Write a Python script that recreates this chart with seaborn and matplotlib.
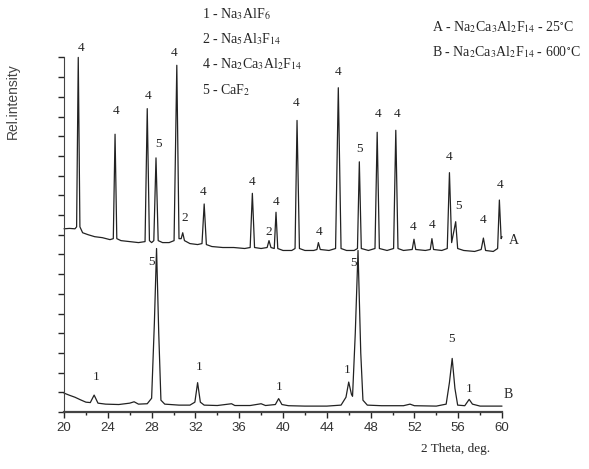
import matplotlib
matplotlib.use("Agg")
import matplotlib.pyplot as plt
import seaborn as sns
import pandas as pd
from matplotlib.ticker import MultipleLocator

# trace A (25 C): 2theta (deg) and rel. intensity
a_x = [20.0, 20.5, 21.0, 21.15, 21.3, 21.45, 21.7, 22.2, 22.8, 23.5, 24.2, 24.5, 24.66, 24.82,
       25.2, 26.0, 26.8, 27.4, 27.6, 27.8, 28.0, 28.2, 28.4, 28.6, 29.0, 29.6, 30.05, 30.3,
       30.5, 30.7, 30.84, 31.0, 31.5, 32.2, 32.6, 32.8, 33.0, 33.5, 34.5, 35.5, 36.5, 37.0,
       37.2, 37.4, 38.0, 38.55, 38.72, 38.9, 39.2, 39.36, 39.52, 40.0, 40.8, 41.1, 41.28,
       41.5, 42.0, 42.8, 43.1, 43.23, 43.4, 44.2, 44.8, 45.05, 45.3, 45.8, 46.5, 46.8, 46.97,
       47.15, 47.8, 48.4, 48.6, 48.8, 49.5, 50.1, 50.3, 50.5, 51.0, 51.8, 51.96, 52.12, 53.0,
       53.45, 53.6, 53.75, 54.5, 55.0, 55.2, 55.4, 55.77, 55.95, 56.5, 57.5, 58.1, 58.3, 58.5,
       59.2, 59.6, 59.76, 59.92, 60.0]
a_y = [9.3, 9.32, 9.3, 9.4, 18.0, 9.4, 9.1, 9.0, 8.9, 8.85, 8.75, 8.8, 14.1, 8.8,
       8.7, 8.65, 8.6, 8.65, 15.4, 8.7, 8.6, 8.7, 12.9, 8.7, 8.6, 8.6, 8.7, 17.6,
       8.8, 8.8, 9.1, 8.7, 8.55, 8.5, 8.55, 10.56, 8.5, 8.4, 8.35, 8.35, 8.3, 8.35,
       11.1, 8.35, 8.3, 8.35, 8.7, 8.35, 8.3, 10.14, 8.3, 8.2, 8.2, 8.3, 14.8,
       8.3, 8.2, 8.2, 8.25, 8.6, 8.25, 8.2, 8.3, 16.46, 8.3, 8.2, 8.2, 8.3, 12.7,
       8.3, 8.2, 8.3, 14.2, 8.3, 8.2, 8.3, 14.3, 8.3, 8.2, 8.25, 8.77, 8.25, 8.2,
       8.25, 8.8, 8.25, 8.2, 8.3, 12.15, 8.6, 9.66, 8.3, 8.2, 8.15, 8.25, 8.83, 8.2,
       8.15, 8.3, 10.76, 8.8, 8.9]

# trace B (600 C)
b_x = [20.0, 20.5, 21.0, 21.5, 22.0, 22.4, 22.75, 23.1, 23.8, 25.0, 26.0, 26.4, 26.8, 27.6,
       28.0, 28.25, 28.45, 28.65, 28.85, 29.2, 30.5, 31.5, 31.95, 32.2, 32.45, 32.8, 34.0,
       35.3, 35.6, 37.0, 38.0, 38.4, 39.3, 39.6, 39.9, 40.5, 42.0, 44.0, 45.3, 45.75, 46.0,
       46.25, 46.35, 46.6, 46.85, 47.1, 47.3, 47.7, 49.0, 51.0, 51.6, 52.0, 54.0, 54.9, 55.2,
       55.45, 55.7, 55.95, 56.6, 57.0, 57.3, 58.0, 59.0, 60.0]
b_y = [0.96, 0.85, 0.75, 0.62, 0.5, 0.48, 0.86, 0.45, 0.4, 0.38, 0.45, 0.52, 0.4, 0.42,
       0.7, 4.5, 8.3, 4.0, 0.6, 0.4, 0.35, 0.35, 0.5, 1.49, 0.5, 0.35, 0.33,
       0.42, 0.33, 0.33, 0.42, 0.33, 0.38, 0.68, 0.38, 0.32, 0.3, 0.3, 0.35, 0.75, 1.52,
       0.9, 0.8, 4.0, 8.2, 3.0, 0.6, 0.35, 0.32, 0.32, 0.4, 0.32, 0.3, 0.4, 1.5,
       2.72, 1.2, 0.35, 0.32, 0.64, 0.4, 0.3, 0.3, 0.3]

# phase labels over the peaks
a_lab = ["4", "4", "4", "5", "4", "2", "4", "4", "2", "4", "4", "4", "4", "5", "4", "4",
         "4", "4", "4", "5", "4", "4"]
a_lab_x = [21.52, 24.75, 27.7, 28.6, 30.07, 30.99, 32.72, 37.14, 38.66, 39.36, 41.19, 43.32,
           45.0, 46.94, 48.65, 50.44, 51.9, 53.64, 55.19, 56.0, 58.23, 59.82]
a_lab_y = [18.5, 15.28, 16.04, 13.6, 18.2, 9.83, 11.18, 11.69, 9.15, 10.64, 15.67, 9.14,
           17.24, 13.33, 15.13, 15.13, 9.4, 9.49, 12.96, 10.47, 9.75, 11.5]
b_lab = ["1", "5", "1", "1", "1", "5", "5", "1"]
b_lab_x = [22.92, 28.0, 32.36, 39.66, 45.88, 46.43, 55.4, 57.0]
b_lab_y = [1.76, 7.6, 2.27, 1.29, 2.13, 7.55, 3.69, 1.15]

phases = ["1 - Na$_3$AlF$_6$", "2 - Na$_5$Al$_3$F$_{14}$",
          "4 - Na$_2$Ca$_3$Al$_2$F$_{14}$", "5 - CaF$_2$"]
samples = ["A - Na$_2$Ca$_3$Al$_2$F$_{14}$ - 25$^{\\circ}$C",
           "B - Na$_2$Ca$_3$Al$_2$F$_{14}$ - 600$^{\\circ}$C"]

sns.set_style("ticks")
plt.rcParams["font.family"] = ["Liberation Serif", "DejaVu Serif"]
plt.rcParams["mathtext.fontset"] = "stix"

df_a = pd.DataFrame({"x": a_x, "y": a_y})
df_b = pd.DataFrame({"x": b_x, "y": b_y})

fig = plt.figure(figsize=(5.89, 4.69), dpi=100)
ax = fig.add_axes([0.1087, 0.1215, 0.7436, 0.7561])

sns.lineplot(data=df_a, x="x", y="y", ax=ax, color="#222222", lw=0.9,
             estimator=None, sort=False, clip_on=False)
sns.lineplot(data=df_b, x="x", y="y", ax=ax, color="#222222", lw=0.9,
             estimator=None, sort=False, clip_on=False)

for t, x, y in zip(a_lab, a_lab_x, a_lab_y):
    ax.text(x, y, t, ha="center", va="center", fontsize=9.5, clip_on=False)
for t, x, y in zip(b_lab, b_lab_x, b_lab_y):
    ax.text(x, y, t, ha="center", va="center", fontsize=9.5, clip_on=False)
ax.text(61.1, 8.73, "A", ha="center", va="center", fontsize=10, clip_on=False)
ax.text(60.58, 0.9, "B", ha="center", va="center", fontsize=10, clip_on=False)

ax.set_xlim(20, 60)
ax.set_ylim(0, 18)
ax.xaxis.set_major_locator(MultipleLocator(4))
ax.xaxis.set_minor_locator(MultipleLocator(2))
ax.yaxis.set_major_locator(MultipleLocator(1))
ax.set_yticklabels([])
ax.tick_params(axis="x", which="major", length=4, width=1, labelsize=9.5,
               labelcolor="#333333", labelfontfamily="Liberation Sans", pad=3)
ax.tick_params(axis="x", which="minor", length=2.5, width=1)
ax.tick_params(axis="y", which="major", length=4, width=1)
ax.set_xlabel("")
ax.set_ylabel("")
sns.despine(ax=ax)
ax.spines["bottom"].set_linewidth(1.6)
ax.spines["bottom"].set_color("#444444")
ax.spines["left"].set_color("#444444")

fig.text(0.773, 0.043, "2 Theta, deg.", ha="center", va="center", fontsize=9.5)
fig.text(0.022, 0.785, "Rel.intensity", ha="center", va="center", rotation=90,
         fontsize=10, color="#444444", family=["Liberation Sans"])

for i, s in enumerate(phases):
    fig.text(0.343, 1 - (14 + 25.2 * i) / 469, s, ha="left", va="center", fontsize=10)
for i, s in enumerate(samples):
    fig.text(0.733, 1 - (27 + 25 * i) / 469, s, ha="left", va="center", fontsize=10)

fig.savefig("out.png", dpi=100)
